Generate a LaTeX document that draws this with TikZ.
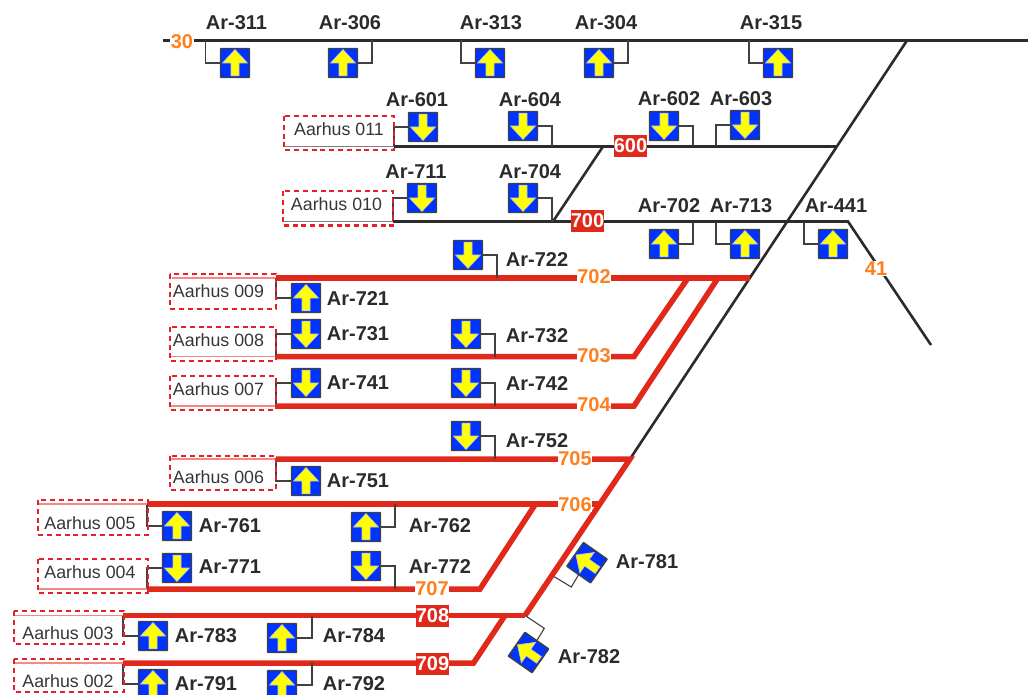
\documentclass[tikz,border=0pt]{standalone}
\usepackage{fontspec}
\setmainfont{Liberation Sans}
\definecolor{trk}{HTML}{2B2B2B}
\definecolor{rd}{HTML}{E0291A}
\definecolor{org}{HTML}{FF7F1E}
\definecolor{sigblue}{HTML}{0033FF}
\definecolor{sigyel}{HTML}{FFFF00}
\definecolor{dash}{HTML}{E3202B}
\definecolor{pinkl}{HTML}{F28A82}
\tikzset{
  blk/.style={draw=trk,line width=2.6pt},
  redt/.style={draw=rd,line width=5.5pt,line join=miter},
  conn/.style={draw=trk!90,line width=1.3pt},
  sigbody/.style={draw=trk!90,fill=sigblue,line width=1.4pt,minimum size=29pt,inner sep=0pt,rounded corners=0.5pt,outer sep=0pt},
  sigarrow/.style={fill=sigyel,draw=white!78!black,line width=.7pt},
  sglabel/.style={font=\fontsize{20pt}{22pt}\selectfont\bfseries,text=trk,inner sep=0pt},
  orglabel/.style={font=\fontsize{20pt}{22pt}\selectfont\bfseries,text=org,fill=white,inner sep=0.4pt},
  redlabel/.style={font=\fontsize{20pt}{22pt}\selectfont\bfseries,text=white,fill=rd,inner sep=0pt,minimum width=33pt,minimum height=22pt},
  stnbox/.style={draw=dash,line width=2.4pt,dash pattern=on 5pt off 3.8pt},
  stnlabel/.style={font=\fontsize{17.8pt}{20pt}\selectfont,text=trk!95,inner sep=0pt},
  edgeg/.style={draw=gray,line width=1.3pt},
  edgep/.style={draw=pinkl,line width=1.3pt},
}
\newcommand{\sigglyph}[3]{%
  \begin{scope}[shift={(#1,#2)},rotate=#3]
    \path[sigarrow] (0,-13.4) -- (12.4,0) -- (4,0) -- (4,12.8) -- (-4,12.8) -- (-4,0) -- (-12.4,0) -- cycle;
  \end{scope}}
\newcommand{\tapw}[6]{% name cx cy rot tapx tapy (tap left of box)
  \coordinate (j#1) at (#5,#6);
  \node[sigbody] (#1) at (#2,#3) {};
  \draw[conn] (#1.west) -| (j#1);
  \sigglyph{#2}{#3}{#4}}
\newcommand{\tape}[6]{% tap right of box
  \coordinate (j#1) at (#5,#6);
  \node[sigbody] (#1) at (#2,#3) {};
  \draw[conn] (#1.east) -| (j#1);
  \sigglyph{#2}{#3}{#4}}
\newcommand{\sgl}[4]{\node[sglabel] (#1) at (#3,#4) {#2};}
\newcommand{\stn}[8]{%
  \coordinate (#1a) at (#5,#6);
  \coordinate (#1b) at (#7,#8);
  \node[stnlabel] (#1) at (#3,#4) {#2};
  \draw[stnbox] (#1a) rectangle (#1b);}
\begin{document}
\begin{tikzpicture}[x=1pt,y=-1pt]
\useasboundingbox (0,0) rectangle (1030,695);
\clip (0,0) rectangle (1030,695);
\coordinate (t30a) at (163,40.5);
\coordinate (t30b) at (1028,40.5);
\coordinate (t60a) at (394,146.5);
\coordinate (t60b) at (836.5,146.5);
\coordinate (t60c) at (603,146.5);
\coordinate (t70a) at (393,221.5);
\coordinate (t70b) at (848,221.5);
\coordinate (t70c) at (553,221.5);
\coordinate (t41) at (931,345);
\coordinate (dtop) at (907,40.5);
\coordinate (dmid) at (630,459);
\coordinate (dbot) at (525,615.5);
\coordinate (r2a) at (276,278);
\coordinate (r2b) at (750,278);
\coordinate (r2c) at (688,278);
\coordinate (r2d) at (718,278);
\coordinate (r3a) at (276,356.5);
\coordinate (r3b) at (634,356.5);
\coordinate (r4a) at (276,406);
\coordinate (r4b) at (634,406);
\coordinate (r5a) at (276,459);
\coordinate (r6a) at (147,504);
\coordinate (r6b) at (598,504);
\coordinate (r6c) at (535.5,504);
\coordinate (r7a) at (147,589);
\coordinate (r7b) at (480,589);
\coordinate (r8a) at (123,615.5);
\coordinate (r8c) at (505,615.5);
\coordinate (r9a) at (123,663);
\coordinate (r9b) at (473.5,663);
\draw[blk] (t30a) -- (t30b);
\draw[blk] (t60a) -- (t60b);
\draw[blk] (t70a) -- (t70b) -- (t41);
\draw[blk] (t60c) -- (t70c);
\draw[blk] (dtop) -- (dmid);
\draw[redt] (r2a) -- (r2b);
\draw[redt] (r3a) -- (r3b) -- (r2c);
\draw[redt] (r4a) -- (r4b) -- (r2d);
\draw[redt] (r5a) -- (dmid) -- (dbot);
\draw[redt] (r6a) -- (r6b);
\draw[redt] (r7a) -- (r7b) -- (r6c);
\draw[redt] (r8a) -- (dbot);
\draw[redt] (r9a) -- (r9b) -- (r8c);
\tapw{s311}{235}{63}{0}{205.5}{40.5}
\tape{s306}{343}{63}{0}{372}{40.5}
\tapw{s313}{490}{63}{0}{461}{40.5}
\tape{s304}{599}{63}{0}{628}{40.5}
\tapw{s315}{778}{63}{0}{749}{40.5}
\tapw{s601}{423}{127}{180}{394}{146.5}
\tape{s604}{523}{126}{180}{552}{146.5}
\tape{s602}{664}{126}{180}{693}{146.5}
\tapw{s603}{745}{125}{180}{716}{146.5}
\tapw{s711}{422}{198}{180}{393}{221.5}
\tape{s704}{523}{198}{180}{552}{221.5}
\tape{s702}{664}{244}{0}{693}{221.5}
\tapw{s713}{745}{244}{0}{716}{221.5}
\tapw{s441}{833}{244}{0}{804}{221.5}
\tape{s722}{468}{255}{180}{497}{278}
\tapw{s721}{306}{298}{0}{276}{278}
\tapw{s731}{306}{334}{180}{276}{356.5}
\tape{s732}{466}{334}{180}{495}{356.5}
\tapw{s741}{306}{383}{180}{276}{406}
\tape{s742}{466}{383}{180}{495}{406}
\tape{s752}{466}{436}{180}{495}{459}
\tapw{s751}{306}{481}{0}{276}{459}
\tapw{s761}{177}{526}{0}{147}{504}
\tape{s762}{366}{527}{0}{395}{504}
\tapw{s771}{177}{568}{180}{147}{589}
\tape{s772}{366}{566}{180}{395}{589}
\tapw{s783}{153}{636}{0}{123}{615.5}
\tape{s784}{282}{638}{0}{312}{615.5}
\tapw{s791}{153}{684}{0}{123}{663}
\tape{s792}{282}{685}{0}{312}{663}
\coordinate (j781) at (554.3,576.7);
\coordinate (c781) at (571.3,587);
\node[sigbody,rotate=55] (s781) at (587,562.7) {};
\draw[conn,line width=1.1pt] (j781) -- (c781) -- (s781.west);
\sigglyph{587}{562.7}{55}
\coordinate (j782) at (525,615.5);
\coordinate (c782) at (544.3,628.3);
\node[sigbody,rotate=55] (s782) at (528.5,652.5) {};
\draw[conn,line width=1.1pt] (j782) -- (c782) -- (s782.east);
\sigglyph{528.5}{652.5}{55}
\sgl{l311}{Ar-311}{236.5}{22.5}
\sgl{l306}{Ar-306}{350}{22.5}
\sgl{l313}{Ar-313}{491}{22.5}
\sgl{l304}{Ar-304}{606}{22.5}
\sgl{l315}{Ar-315}{771}{22.5}
\sgl{l601}{Ar-601}{417}{99.5}
\sgl{l604}{Ar-604}{530}{99.5}
\sgl{l602}{Ar-602}{669}{98.5}
\sgl{l603}{Ar-603}{741}{98.5}
\sgl{l711}{Ar-711}{416}{171.5}
\sgl{l704}{Ar-704}{530}{171.5}
\sgl{l702}{Ar-702}{669}{205.5}
\sgl{l713}{Ar-713}{741}{205.5}
\sgl{l441}{Ar-441}{836}{205.5}
\sgl{l722}{Ar-722}{537}{259.5}
\sgl{l721}{Ar-721}{358}{298.5}
\sgl{l731}{Ar-731}{358}{333.5}
\sgl{l732}{Ar-732}{537}{335.5}
\sgl{l741}{Ar-741}{358}{382.5}
\sgl{l742}{Ar-742}{537}{383.5}
\sgl{l752}{Ar-752}{537}{440.5}
\sgl{l751}{Ar-751}{358}{480.5}
\sgl{l761}{Ar-761}{230}{525.5}
\sgl{l762}{Ar-762}{440}{525.5}
\sgl{l771}{Ar-771}{230}{566.5}
\sgl{l772}{Ar-772}{440}{566.5}
\sgl{l783}{Ar-783}{206}{635.5}
\sgl{l784}{Ar-784}{354}{635.5}
\sgl{l791}{Ar-791}{206}{683.5}
\sgl{l792}{Ar-792}{354}{683.5}
\sgl{l781}{Ar-781}{647}{561.5}
\sgl{l782}{Ar-782}{589}{656.5}
\node[orglabel] (n30) at (182,42) {30};
\node[orglabel] (n41) at (876,268.5) {41};
\node[orglabel] (n702) at (594,277) {702};
\node[orglabel] (n703) at (594,356) {703};
\node[orglabel] (n704) at (594,405) {704};
\node[orglabel] (n705) at (575,459) {705};
\node[orglabel] (n706) at (575,505) {706};
\node[orglabel] (n707) at (432,589) {707};
\node[redlabel] (n600) at (630.5,146) {600};
\node[redlabel] (n700) at (587.5,221) {700};
\node[redlabel] (n708) at (432.5,615.5) {708};
\node[redlabel] (n709) at (432.5,663.5) {709};
\draw[edgeg] (284,146.5) -- (t60a);
\draw[edgeg] (283,221.5) -- (t70a);
\draw[edgep] (172,278) -- (r2a);
\draw[edgep] (170,356.5) -- (r3a);
\draw[edgep] (170,406) -- (r4a);
\draw[edgep] (170,459) -- (r5a);
\draw[edgep] (38,504) -- (r6a);
\draw[edgep] (38,589) -- (r7a);
\draw[edgep] (14,615.5) -- (r8a);
\draw[edgep] (14,663) -- (r9a);
\stn{a011}{Aarhus 011}{339}{129}{284}{116}{394}{150}
\stn{a010}{Aarhus 010}{336.5}{204}{283}{191}{393}{225.5}
\stn{a009}{Aarhus 009}{218.5}{291.5}{170}{274}{276}{309}
\stn{a008}{Aarhus 008}{218.5}{340}{170}{327}{276}{361}
\stn{a007}{Aarhus 007}{218.5}{389}{170}{376}{276}{410}
\stn{a006}{Aarhus 006}{218.5}{477}{170}{456}{276}{490}
\stn{a005}{Aarhus 005}{90}{523}{38}{500}{148}{535}
\stn{a004}{Aarhus 004}{90}{572}{38}{559}{148}{593}
\stn{a003}{Aarhus 003}{68}{633}{14}{611}{124}{644}
\stn{a002}{Aarhus 002}{68}{681}{14}{659}{124}{692}
\end{tikzpicture}
\end{document}
